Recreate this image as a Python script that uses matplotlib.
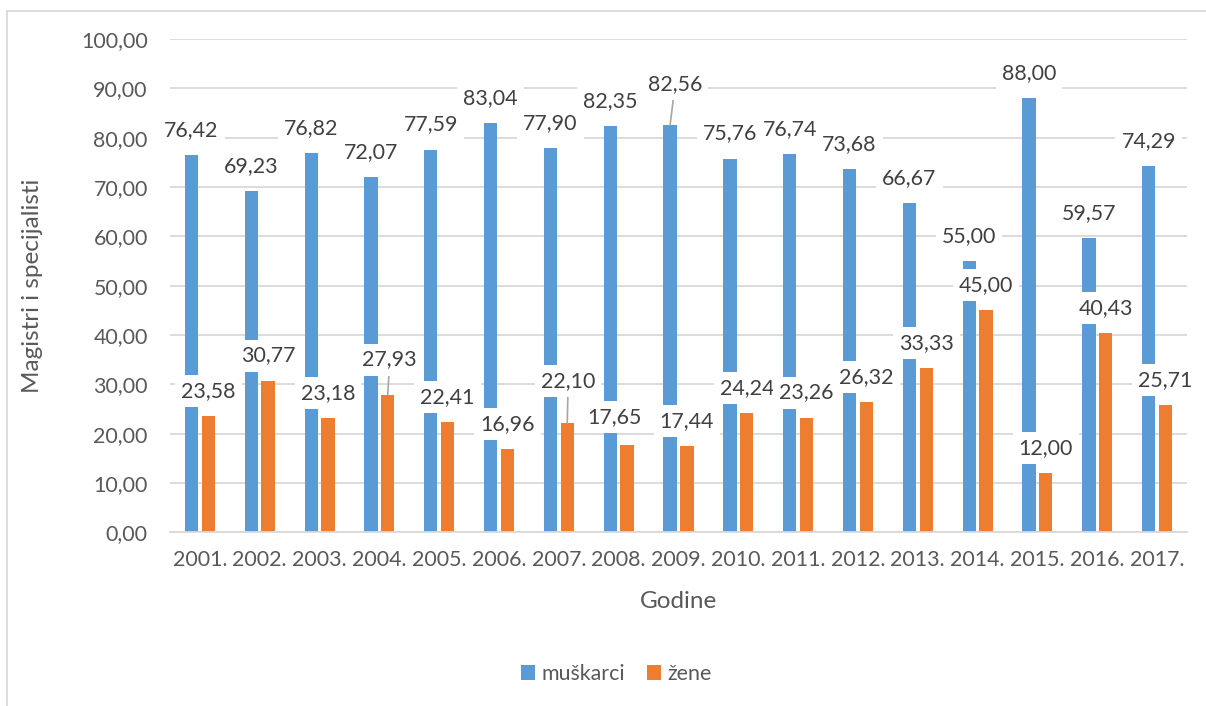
import numpy as np
import matplotlib
matplotlib.use('Agg')
import matplotlib.pyplot as plt
from matplotlib.patches import Rectangle

plt.rcParams['font.family'] = ['Lato', 'DejaVu Sans']

# data
years = ['2001.', '2002.', '2003.', '2004.', '2005.', '2006.', '2007.', '2008.', '2009.',
         '2010.', '2011.', '2012.', '2013.', '2014.', '2015.', '2016.', '2017.']
muskarci = [76.42, 69.23, 76.82, 72.07, 77.59, 83.04, 77.90, 82.35, 82.56,
            75.76, 76.74, 73.68, 66.67, 55.00, 88.00, 59.57, 74.29]
zene = [23.58, 30.77, 23.18, 27.93, 22.41, 16.96, 22.10, 17.65, 17.44,
        24.24, 23.26, 26.32, 33.33, 45.00, 12.00, 40.43, 25.71]

BLUE = '#5B9BD5'
ORANGE = '#ED7D31'
GRID = '#D9D9D9'
TXT = '#595959'
LBL = '#404040'
FS = 15.4

# label placement tweaks (pixels): index -> (dx, dy, leader line)
blue_moves = {8: (5, 41, True)}
orange_moves = {3: (2, 35, True), 6: (1, 42, True), 7: (-13, 28, False)}

fig = plt.figure(figsize=(12.06, 7.06), dpi=100)
ax = fig.add_axes([170 / 1206, (706 - 532.3) / 706, 1017 / 1206, 493.3 / 706])

x = np.arange(len(years))
w = 0.222
off = 0.14
ax.bar(x - off, muskarci, w, color=BLUE, label='muškarci', zorder=2)
ax.bar(x + off, zene, w, color=ORANGE, label='žene', zorder=2)

ax.set_xlim(-0.5, len(years) - 0.5)
ax.set_ylim(0, 100)
ax.set_yticks(np.arange(0, 101, 10))
ax.set_yticklabels([f'{v:.2f}'.replace('.', ',') for v in np.arange(0, 101, 10)])
ax.set_xticks(x)
ax.set_xticklabels(years)
ax.tick_params(length=0, labelsize=FS, colors=TXT)
ax.tick_params(axis='y', pad=16)
ax.tick_params(axis='x', pad=13)
ax.grid(axis='y', color=GRID, lw=1.3)
ax.set_axisbelow(True)
for s in ['top', 'right', 'left']:
    ax.spines[s].set_visible(False)
ax.spines['bottom'].set_color(GRID)
ax.spines['bottom'].set_linewidth(1.3)


def add_labels(xs, vals, moves):
    for i, (xi, v) in enumerate(zip(xs, vals)):
        dx, dy, lead = moves.get(i, (0, 25, False))
        kw = {}
        if lead:
            kw['arrowprops'] = dict(arrowstyle='-', color='#A6A6A6', lw=1.2,
                                    shrinkA=0, shrinkB=0)
        ax.annotate(f'{v:.2f}'.replace('.', ','), xy=(xi, v), xytext=(dx, dy),
                    textcoords='offset pixels', ha='center', va='center',
                    fontsize=FS, color=LBL, zorder=5,
                    bbox=dict(boxstyle='square,pad=0.28', fc='white', ec='none'),
                    **kw)


add_labels(x - off, muskarci, blue_moves)
add_labels(x + off, zene, orange_moves)

fig.text(33 / 1206, 1 - 286 / 706, 'Magistri i specijalisti', rotation=90,
         ha='center', va='center', fontsize=17.5, color=TXT)
fig.text(678.5 / 1206, 1 - 602 / 706, 'Godine', ha='center', va='center',
         fontsize=17.5, color=TXT)

fig.legend(loc='center', bbox_to_anchor=(616.5 / 1206, 1 - 674 / 706), ncol=2,
           frameon=False, fontsize=FS, labelcolor=TXT, handlelength=0.68,
           handleheight=0.68, handletextpad=0.3, columnspacing=1.0)

# chart area border (only top and left edges fall inside the image)
fig.patches.append(Rectangle((7 / 1206, -0.1), 1.2, 1 - 11 / 706 + 0.1,
                             transform=fig.transFigure, fill=False,
                             ec='#D9D9D9', lw=1.3))

fig.savefig('out.png', dpi=100)
